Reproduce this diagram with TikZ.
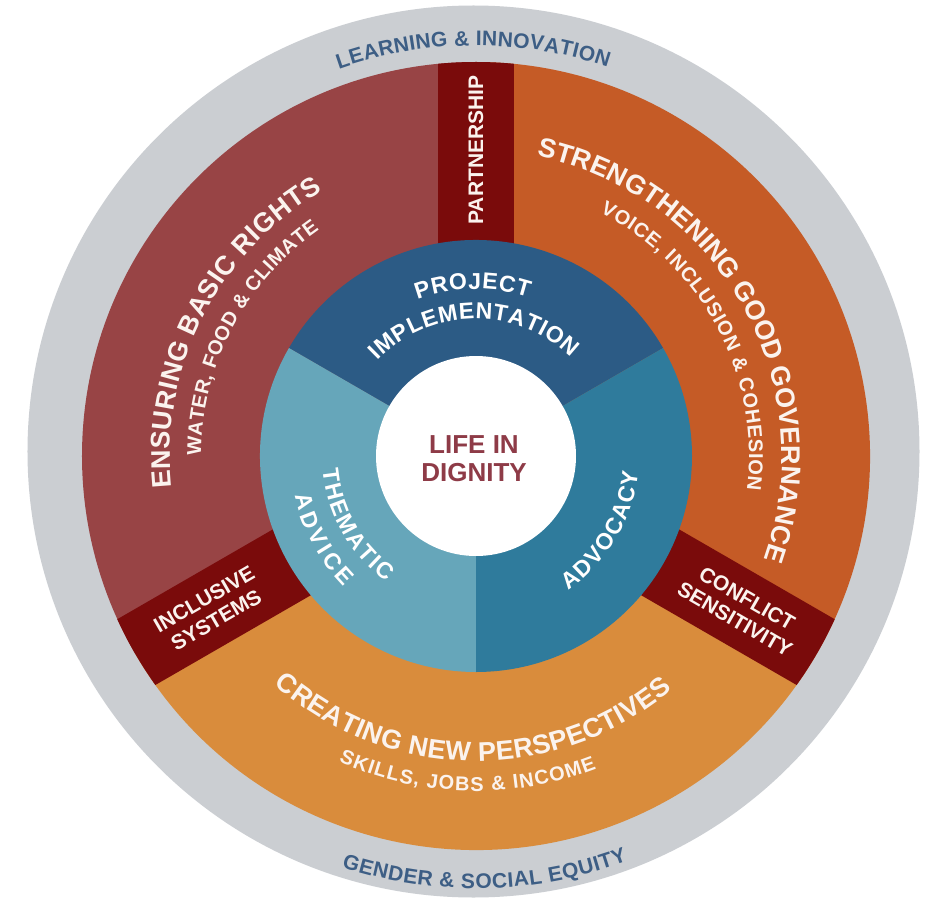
\documentclass[tikz,border=0pt]{standalone}
\usepackage{fontspec}
\setmainfont{Liberation Sans}
\usetikzlibrary{decorations.text}
\definecolor{ringgray}{HTML}{CBCED2}
\definecolor{secred}{HTML}{984445}
\definecolor{secorange}{HTML}{C55B26}
\definecolor{seclight}{HTML}{D98C3C}
\definecolor{bandred}{HTML}{7A0B0B}
\definecolor{projblue}{HTML}{2C5B85}
\definecolor{advblue}{HTML}{2F7B9C}
\definecolor{themblue}{HTML}{66A6BA}
\definecolor{graytext}{HTML}{3D5E85}
\definecolor{lifered}{HTML}{8E3B47}
\definecolor{offwhite}{HTML}{FBF3EE}
\newcommand\mainttl{\fontsize{27}{27}\selectfont\bfseries\color{offwhite}}
\newcommand\subttl{\fontsize{20}{20}\selectfont\bfseries\color{offwhite}}
\newcommand\bluettl{\fontsize{23}{23}\selectfont\bfseries\color{white}}
\newcommand\grayttl{\fontsize{21}{21}\selectfont\bfseries\color{graytext}}
\tikzset{
  arctext/.style={decorate, decoration={text along path, text align={fit to path}, text={#1}}},
  bandtext/.style={text=offwhite, font=\fontsize{21}{24}\selectfont\bfseries, align=center, inner sep=0pt},
}
\begin{document}
\begin{tikzpicture}[x=1pt,y=1pt]
\fill[white] (-476,-445) rectangle (465,456);
\fill[ringgray] (-2.5,4.5) circle (446);
% outer ring sectors
\fill[secred] (0,0) -- (90:394) arc[start angle=90,end angle=210,radius=394] -- cycle;
\fill[secorange] (0,0) -- (-30:394) arc[start angle=-30,end angle=90,radius=394] -- cycle;
\fill[seclight] (0,0) -- (210:394) arc[start angle=210,end angle=330,radius=394] -- cycle;
% bands
\begin{scope}
\clip (0,0) circle (394);
\foreach \a in {90,210,330} \fill[bandred,rotate=\a] (0,-38) rectangle (400,38);
\end{scope}
% inner blue sectors
\fill[projblue] (0,0) -- (30:216) arc[start angle=30,end angle=150,radius=216] -- cycle;
\fill[themblue] (0,0) -- (150:216) arc[start angle=150,end angle=270,radius=216] -- cycle;
\fill[advblue] (0,0) -- (270:216) arc[start angle=270,end angle=390,radius=216] -- cycle;
\fill[white] (0,0) circle (100);
% ring titles
\path[arctext={|\mainttl|ENSURING BASIC RIGHTS}] (186:306) arc[start angle=186,end angle=120,radius=306];
\path[arctext={|\subttl|WATER, FOOD {\&} CLIMATE}] (180:275) arc[start angle=180,end angle=124.7,radius=275];
\path[arctext={|\mainttl|STRENGTHENING GOOD GOVERNANCE}] (78.6:306) arc[start angle=78.6,end angle=-19.4,radius=306];
\path[arctext={|\subttl|VOICE, INCLUSION {\&} COHESION}] (63:273) arc[start angle=63,end angle=-7.1,radius=273];
\path[arctext={|\mainttl|CREATING NEW PERSPECTIVES}] (228.5:305) arc[start angle=228.5,end angle=310,radius=305];
\path[arctext={|\subttl|SKILLS, JOBS {\&} INCOME}] (245.8:335) arc[start angle=245.8,end angle=291.1,radius=335];
% gray ring
\path[arctext={|\grayttl|LEARNING {\&} INNOVATION}] (109.5:410.5) arc[start angle=109.5,end angle=71.3,radius=410.5];
\path[arctext={|\grayttl|GENDER {\&} SOCIAL EQUITY}] (251.9:432.5) arc[start angle=251.9,end angle=290.5,radius=432.5];
% blue ring titles
\path[arctext={|\bluettl|PROJECT}] (110.5:167) arc[start angle=110.5,end angle=71.7,radius=167];
\path[arctext={|\bluettl|IMPLEMENTATION}] (136:137) arc[start angle=136,end angle=46,radius=137];
\path[arctext={|\bluettl|ADVOCACY}] (-55.5:163) arc[start angle=-55.5,end angle=-5.6,radius=163];
\path[arctext={|\bluettl|THEMATIC}] (185:154) arc[start angle=185,end angle=234.7,radius=154];
\path[arctext={|\bluettl|ADVICE}] (192.3:185.5) arc[start angle=192.3,end angle=224.7,radius=185.5];
% band labels
\node[bandtext, rotate=90] (partner) at (90:306) {PARTNERSHIP};
\node[bandtext, rotate=30] (inclusive) at (210:307) {INCLUSIVE\\SYSTEMS};
\node[bandtext, rotate=-30] (conflict) at (-30:306) {CONFLICT\\SENSITIVITY};
% centre
\node[text=lifered, font=\fontsize{26}{28}\selectfont\bfseries, align=center, inner sep=0pt] (life) at (-2,-3) {LIFE IN\\DIGNITY};
\end{tikzpicture}
\end{document}
